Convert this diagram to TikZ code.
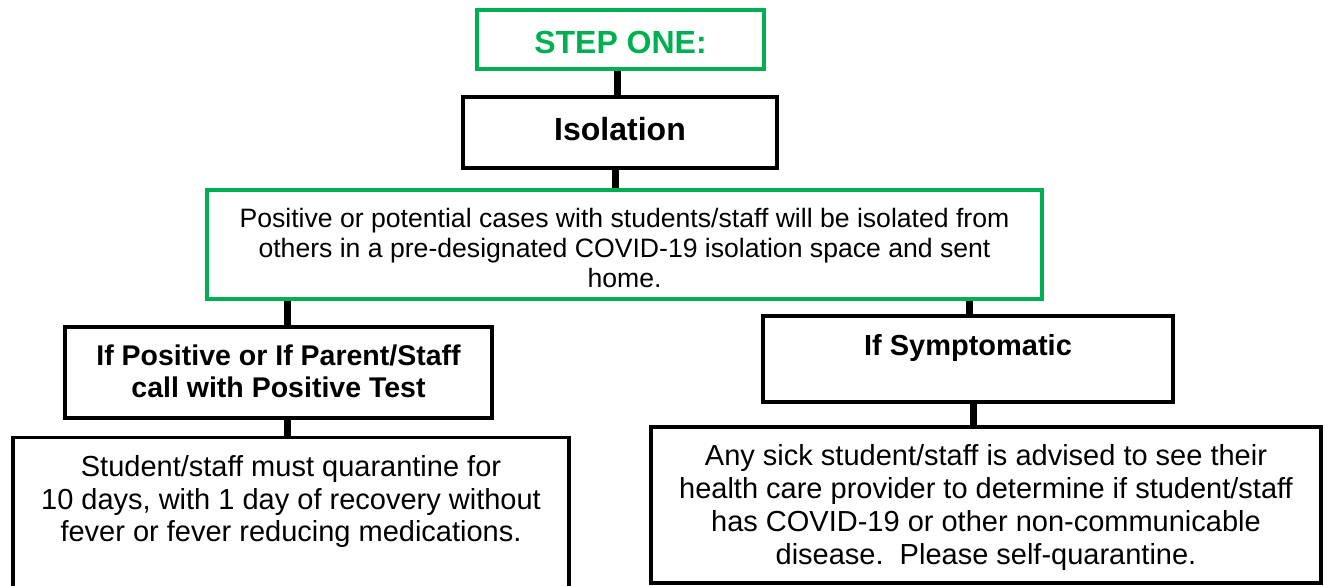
\documentclass[tikz,border=0pt]{standalone}
\usepackage{fontspec}
\setmainfont{Liberation Sans}
\usetikzlibrary{backgrounds}
\definecolor{stepgreen}{HTML}{00B050}
\newcommand\boxtxt[4]{\parbox[c][#1pt][t]{#2pt}{\centering\rule{0pt}{#3pt}#4}}
\begin{document}
\begin{tikzpicture}[x=1pt,y=-1pt,
  boxnode/.style={draw=black, line width=3.5pt, fill=white, inner sep=0pt, outer sep=0pt},
  greennode/.style={boxnode, draw=stepgreen, line width=4pt},
  headtxt/.style={font=\fontsize{32}{38}\selectfont\bfseries},
  subtxt/.style={font=\fontsize{28.5}{32}\selectfont\bfseries},
  bodytxt/.style={font=\fontsize{29}{32.5}\selectfont},
  conn/.style={draw=black, line width=7pt}]
\clip (0,0) rectangle (1325,586);

\node[greennode, headtxt, text=stepgreen] (step) at (620.5,39.5)
  {\boxtxt{59}{287}{43}{STEP ONE:}};
\node[boxnode, headtxt] (iso) at (620,132.5)
  {\boxtxt{71}{314}{43}{Isolation}};
\node[greennode, font=\fontsize{26.6}{30}\selectfont] (iso2) at (624.5,244.5)
  {\boxtxt{109}{835}{37}{Positive or potential cases with students/staff will be isolated from\\others in a pre-designated COVID-19 isolation space and sent\\home.}};
\node[boxnode, subtxt] (pos) at (278.5,372.5)
  {\boxtxt{91}{427}{38}{If Positive or If Parent/Staff\\call with Positive Test}};
\node[boxnode, subtxt, font=\fontsize{29}{32}\selectfont\bfseries] (sym) at (968,359)
  {\boxtxt{86}{410}{39}{If Symptomatic}};
\node[boxnode, bodytxt] (quar) at (291,516)
  {\boxtxt{157}{556}{39}{Student/staff must quarantine for\\10 days, with 1 day of recovery without\\fever or fever reducing medications.}};
\node[boxnode, bodytxt, font=\fontsize{29}{33}\selectfont] (sick) at (986,505)
  {\boxtxt{156}{670}{38}{Any sick student/staff is advised to see their\\health care provider to determine if student/staff\\has COVID-19 or other non-communicable\\disease.\ \ Please self-quarantine.}};

\begin{pgfonlayer}{background}
\draw[conn] (step.south -| 617,0) -- (iso.north -| 617,0);
\draw[conn] (iso.south -| 615,0) -- (iso2.north -| 615,0);
\draw[conn] (iso2.south -| 287,0) -- (pos.north -| 287,0);
\draw[conn] (pos.south -| 287,0) -- (quar.north -| 287,0);
\draw[conn] (iso2.south -| 969,0) -- (sym.north -| 969,0);
\draw[conn] (sym.south -| 973,0) -- (sick.north -| 973,0);
\end{pgfonlayer}
\end{tikzpicture}
\end{document}
